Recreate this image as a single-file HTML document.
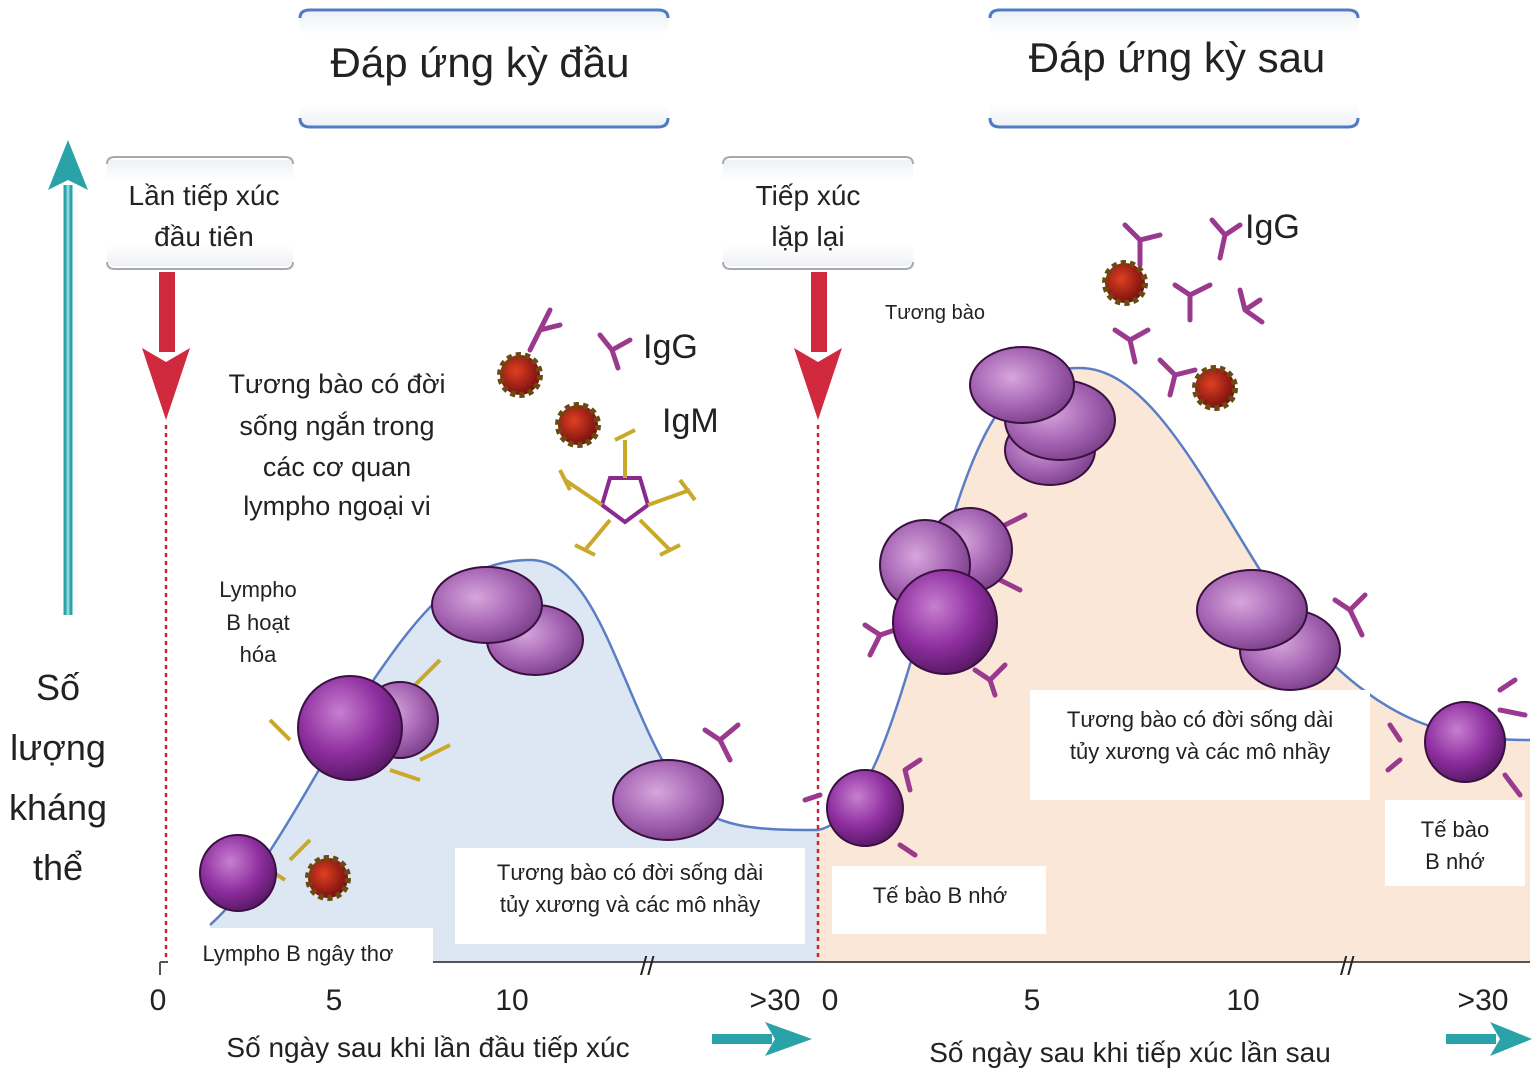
<!DOCTYPE html>
<html><head><meta charset="utf-8"><style>
html,body{margin:0;padding:0;background:#fff}
svg{display:block}
text{font-family:"Liberation Sans",sans-serif;fill:#222}
</style></head><body>
<svg width="1536" height="1078" viewBox="0 0 1536 1078" xmlns="http://www.w3.org/2000/svg">
<defs>
<radialGradient id="cell" cx="40%" cy="35%" r="65%"><stop offset="0" stop-color="#c77fd0"/><stop offset="0.6" stop-color="#8f2fa0"/><stop offset="1" stop-color="#5c1a6a"/></radialGradient>
<radialGradient id="pc" cx="40%" cy="40%" r="65%"><stop offset="0" stop-color="#d7a6dc"/><stop offset="0.6" stop-color="#a463b2"/><stop offset="1" stop-color="#7a3f88"/></radialGradient>
<radialGradient id="ag" cx="40%" cy="40%" r="60%"><stop offset="0" stop-color="#e04020"/><stop offset="1" stop-color="#7a1010"/></radialGradient>
<linearGradient id="hb" x1="0" y1="0" x2="0" y2="1"><stop offset="0" stop-color="#eef1f6"/><stop offset="0.2" stop-color="#fff"/><stop offset="0.8" stop-color="#fff"/><stop offset="1" stop-color="#eef1f6"/></linearGradient>
</defs>
<rect width="1536" height="1078" fill="#fff"/>
<!-- shaded areas -->
<path d="M210 925 C260 880 300 800 360 700 C420 610 460 560 530 560 C600 560 620 700 680 790 C710 830 760 830 818 830 L818 962 L210 962 Z" fill="#dde7f4" stroke="none"/>
<path d="M210 925 C260 880 300 800 360 700 C420 610 460 560 530 560 C600 560 620 700 680 790 C710 830 760 830 818 830" fill="none" stroke="#5a7ec6" stroke-width="2.5"/>
<path d="M818 830 C870 820 900 700 940 560 C980 420 1010 368 1080 368 C1160 368 1220 520 1300 630 C1380 720 1440 740 1530 740 L1530 962 L818 962 Z" fill="#fbe7d8"/>
<path d="M818 830 C870 820 900 700 940 560 C980 420 1010 368 1080 368 C1160 368 1220 520 1300 630 C1380 720 1440 740 1530 740" fill="none" stroke="#5a7ec6" stroke-width="2.5"/>
<!-- axis -->
<line x1="160" y1="962" x2="1530" y2="962" stroke="#555" stroke-width="2"/>
<line x1="160" y1="962" x2="160" y2="975" stroke="#555" stroke-width="2"/>
<text x="640" y="975" font-size="26" fill="#555">//</text>
<text x="1340" y="975" font-size="26" fill="#555">//</text>
<!-- header boxes -->
<rect x="300" y="12" width="368" height="114" fill="url(#hb)"/>
<path d="M300 18 Q300 10 310 10 L658 10 Q668 10 668 18" fill="none" stroke="#4f7bc4" stroke-width="3"/>
<path d="M300 118 Q300 127 310 127 L658 127 Q668 127 668 118" fill="none" stroke="#4f7bc4" stroke-width="3"/>
<text x="480" y="77" font-size="42" text-anchor="middle">Đáp ứng kỳ đầu</text>
<rect x="990" y="12" width="368" height="114" fill="url(#hb)"/>
<path d="M990 18 Q990 10 1000 10 L1348 10 Q1358 10 1358 18" fill="none" stroke="#4f7bc4" stroke-width="3"/>
<path d="M990 118 Q990 127 1000 127 L1348 127 Q1358 127 1358 118" fill="none" stroke="#4f7bc4" stroke-width="3"/>
<text x="1177" y="72" font-size="42" text-anchor="middle">Đáp ứng kỳ sau</text>
<!-- teal y arrow -->
<line x1="68" y1="185" x2="68" y2="615" stroke="#2aa3a8" stroke-width="9"/>
<line x1="68" y1="185" x2="68" y2="615" stroke="#8fd8da" stroke-width="3"/>
<path d="M48 190 L68 140 L88 190 L68 180 Z" fill="#2aa3a8"/>
<text font-size="36" text-anchor="middle"><tspan x="58" y="700">Số</tspan><tspan x="58" y="760">lượng</tspan><tspan x="58" y="820">kháng</tspan><tspan x="58" y="880">thể</tspan></text>
<!-- exposure boxes -->
<rect x="107" y="160" width="186" height="106" fill="url(#hb)"/>
<path d="M107 164 Q107 157 115 157 L285 157 Q293 157 293 164" fill="none" stroke="#aaa" stroke-width="2"/>
<path d="M107 262 Q107 269 115 269 L285 269 Q293 269 293 262" fill="none" stroke="#aaa" stroke-width="2"/>
<text font-size="28" text-anchor="middle"><tspan x="204" y="205">Lần tiếp xúc</tspan><tspan x="204" y="246">đầu tiên</tspan></text>
<rect x="723" y="160" width="190" height="106" fill="url(#hb)"/>
<path d="M723 164 Q723 157 731 157 L905 157 Q913 157 913 164" fill="none" stroke="#aaa" stroke-width="2"/>
<path d="M723 262 Q723 269 731 269 L905 269 Q913 269 913 262" fill="none" stroke="#aaa" stroke-width="2"/>
<text font-size="28" text-anchor="middle"><tspan x="808" y="205">Tiếp xúc</tspan><tspan x="808" y="246">lặp lại</tspan></text>
<!-- red arrows -->
<rect x="159" y="272" width="16" height="80" fill="#d0283c"/>
<path d="M142 348 L166 420 L190 348 L166 362 Z" fill="#d0283c"/>
<rect x="811" y="272" width="16" height="80" fill="#d0283c"/>
<path d="M794 348 L818 420 L842 348 L818 362 Z" fill="#d0283c"/>
<line x1="166" y1="425" x2="166" y2="960" stroke="#c0283c" stroke-width="2.5" stroke-dasharray="4 4"/>
<line x1="818" y1="425" x2="818" y2="960" stroke="#c0283c" stroke-width="2.5" stroke-dasharray="4 4"/>
<!-- left texts -->
<text font-size="27" text-anchor="middle"><tspan x="337" y="393">Tương bào có đời</tspan><tspan x="337" y="435">sống ngắn trong</tspan><tspan x="337" y="476">các cơ quan</tspan><tspan x="337" y="515">lympho ngoại vi</tspan></text>
<text font-size="22" text-anchor="middle"><tspan x="258" y="597">Lympho</tspan><tspan x="258" y="630">B hoạt</tspan><tspan x="258" y="662">hóa</tspan></text>
<rect x="168" y="928" width="265" height="40" fill="#fff"/>
<text x="298" y="961" font-size="22" text-anchor="middle">Lympho B ngây thơ</text>
<rect x="455" y="848" width="350" height="96" fill="#fff"/>
<text font-size="22" text-anchor="middle"><tspan x="630" y="880">Tương bào có đời sống dài</tspan><tspan x="630" y="912">tủy xương và các mô nhầy</tspan></text>
<text x="935" y="319" font-size="20" text-anchor="middle">Tương bào</text>
<rect x="1030" y="690" width="340" height="110" fill="#fff"/>
<text font-size="22" text-anchor="middle"><tspan x="1200" y="727">Tương bào có đời sống dài</tspan><tspan x="1200" y="759">tủy xương và các mô nhầy</tspan></text>
<rect x="832" y="866" width="214" height="68" fill="#fff"/>
<text x="940" y="903" font-size="22" text-anchor="middle">Tế bào B nhớ</text>
<rect x="1385" y="800" width="140" height="86" fill="#fff"/>
<text font-size="22" text-anchor="middle"><tspan x="1455" y="837">Tế bào</tspan><tspan x="1455" y="869">B nhớ</tspan></text>
<!-- antibody labels -->
<text x="643" y="358" font-size="34">IgG</text>
<text x="662" y="432" font-size="34">IgM</text>
<text x="1245" y="238" font-size="34">IgG</text>
<!-- IgM pentamer -->
<g stroke="#c9a82a" stroke-width="4" fill="none">
<path d="M610 478 L640 478 L648 505 L625 522 L602 505 Z" stroke="#8a2a90"/>
<path d="M625 478 L625 440 M648 505 L690 490 M640 520 L670 550 M610 520 L585 550 M602 505 L565 480"/>
<path d="M615 440 L635 430 M680 480 L695 500 M660 555 L680 545 M575 545 L595 555 M560 470 L570 490"/>
<path d="M290 860 L310 840 M285 880 L270 870 M410 690 L440 660 M390 770 L420 780 M420 760 L450 745 M270 720 L290 740"/>
</g>
<!-- IgG Y shapes -->
<g stroke="#9a3a8e" stroke-width="5" fill="none" stroke-linecap="round">
<path d="M540 330 L550 310 M540 330 L560 325 M540 330 L530 350"/>
<path d="M612 350 L600 335 M612 350 L630 340 M612 350 L618 368"/>
<path d="M720 740 L705 730 M720 740 L738 725 M720 740 L730 760"/>
<path d="M1140 240 L1125 225 M1140 240 L1160 235 M1140 240 L1140 265"/>
<path d="M1225 235 L1212 220 M1225 235 L1240 225 M1225 235 L1220 258"/>
<path d="M1190 295 L1175 285 M1190 295 L1210 285 M1190 295 L1190 320"/>
<path d="M1245 310 L1260 300 M1245 310 L1240 290 M1245 310 L1262 322"/>
<path d="M1130 340 L1115 330 M1130 340 L1148 330 M1130 340 L1135 362"/>
<path d="M1175 375 L1160 360 M1175 375 L1195 370 M1175 375 L1170 395"/>
<path d="M1350 610 L1335 600 M1350 610 L1365 595 M1350 610 L1362 635"/>
<path d="M990 680 L975 670 M990 680 L1005 665 M990 680 L995 695"/>
<path d="M880 635 L865 625 M880 635 L870 655 M880 635 L895 630"/>
<path d="M905 770 L920 760 M905 770 L910 790"/>
<path d="M805 800 L820 795 M900 845 L915 855"/>
<path d="M1500 690 L1515 680 M1500 710 L1525 715 M1400 740 L1390 725 M1400 760 L1388 770 M1505 775 L1520 795"/>
<path d="M1005 525 L1025 515 M1000 580 L1020 590"/>
</g>
<!-- antigens -->
<g fill="url(#ag)" stroke="#6a4a10" stroke-width="6" stroke-dasharray="5 4">
<circle cx="520" cy="375" r="20"/><circle cx="578" cy="425" r="20"/><circle cx="328" cy="878" r="20"/>
<circle cx="1125" cy="283" r="20"/><circle cx="1215" cy="388" r="20"/>
</g>
<!-- cells -->
<g stroke="#3a1040" stroke-width="2">
<circle cx="238" cy="873" r="38" fill="url(#cell)"/>
<circle cx="400" cy="720" r="38" fill="url(#pc)"/>
<circle cx="350" cy="728" r="52" fill="url(#cell)"/>
<ellipse cx="535" cy="640" rx="48" ry="35" fill="url(#pc)"/>
<ellipse cx="487" cy="605" rx="55" ry="38" fill="url(#pc)"/>
<ellipse cx="668" cy="800" rx="55" ry="40" fill="url(#pc)"/>
<circle cx="865" cy="808" r="38" fill="url(#cell)"/>
<ellipse cx="1050" cy="450" rx="45" ry="35" fill="url(#pc)"/>
<ellipse cx="1060" cy="420" rx="55" ry="40" fill="url(#pc)"/>
<ellipse cx="1022" cy="385" rx="52" ry="38" fill="url(#pc)"/>
<circle cx="970" cy="550" r="42" fill="url(#pc)"/>
<circle cx="925" cy="565" r="45" fill="url(#pc)"/>
<circle cx="945" cy="622" r="52" fill="url(#cell)"/>
<ellipse cx="1290" cy="650" rx="50" ry="40" fill="url(#pc)"/>
<ellipse cx="1252" cy="610" rx="55" ry="40" fill="url(#pc)"/>
<circle cx="1465" cy="742" r="40" fill="url(#cell)"/>
</g>
<!-- ticks -->
<g font-size="30" text-anchor="middle" fill="#333">
<text x="158" y="1010">0</text><text x="334" y="1010">5</text><text x="512" y="1010">10</text><text x="775" y="1010">&gt;30</text>
<text x="830" y="1010">0</text><text x="1032" y="1010">5</text><text x="1243" y="1010">10</text><text x="1483" y="1010">&gt;30</text>
</g>
<text x="428" y="1057" font-size="28" text-anchor="middle">Số ngày sau khi lần đầu tiếp xúc</text>
<text x="1130" y="1062" font-size="28" text-anchor="middle">Số ngày sau khi tiếp xúc lần sau</text>
<!-- teal bottom arrows -->
<g fill="#2aa3a8">
<rect x="712" y="1034" width="60" height="10"/><path d="M765 1022 L812 1039 L765 1056 L775 1039 Z"/>
<rect x="1446" y="1034" width="50" height="10"/><path d="M1490 1022 L1532 1039 L1490 1056 L1500 1039 Z"/>
</g>
</svg>
</body></html>
